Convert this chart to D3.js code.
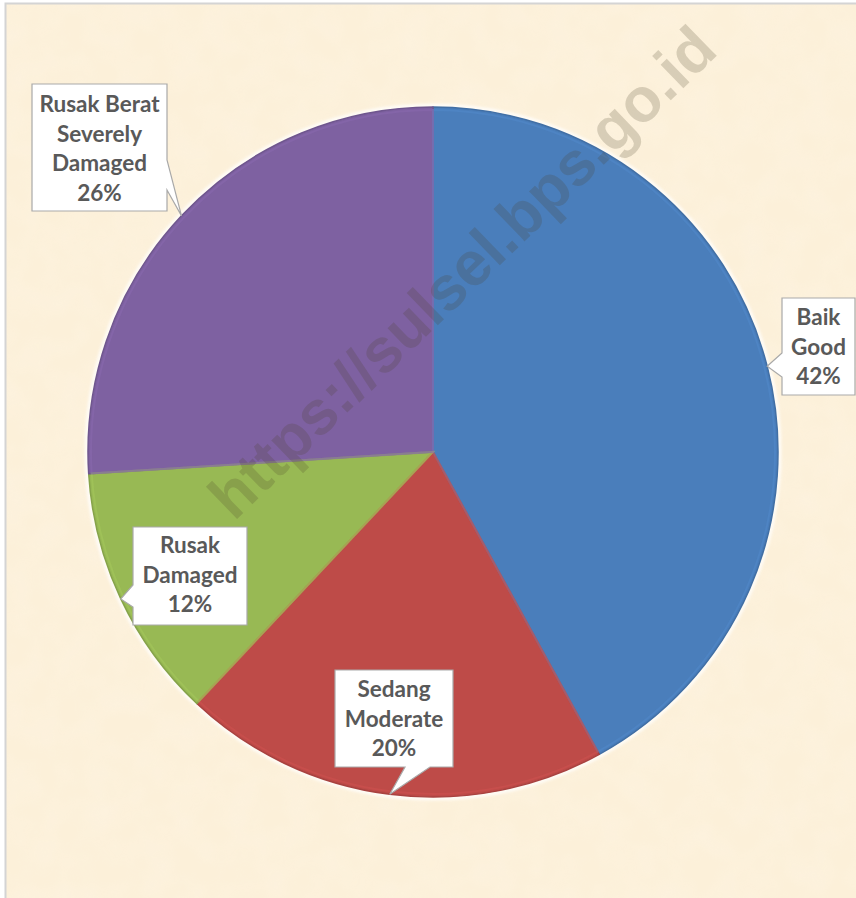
<!DOCTYPE html>
<html>
<head>
<meta charset="utf-8">
<script src="https://cdn.jsdelivr.net/npm/d3@7"></script>
<style>
  html, body { margin: 0; padding: 0; background: #ffffff; }
  svg { display: block; }
</style>
</head>
<body>
<div id="chart"></div>
<script>
// Road condition shares (percent), clockwise from 12 o'clock
const categories   = ["Baik", "Sedang", "Rusak", "Rusak Berat"];
const categoriesEn = [["Good"], ["Moderate"], ["Damaged"], ["Severely", "Damaged"]];
const shares       = [42, 20, 12, 26];
const sliceColors  = ["#4a7ebb", "#be4b48", "#98b954", "#7e61a1"];

const W = 856, H = 898;
const cx = 433, cy = 452, R = 345;

const svg = d3.select("#chart").append("svg")
  .attr("width", W).attr("height", H);

const defs = svg.append("defs");

// parchment-like mottling for the backdrop
const tex = defs.append("filter").attr("id", "paper")
  .attr("x", 0).attr("y", 0).attr("width", "100%").attr("height", "100%");
tex.append("feTurbulence").attr("type", "fractalNoise")
  .attr("baseFrequency", 0.035).attr("numOctaves", 2).attr("seed", 3).attr("result", "n");
tex.append("feColorMatrix").attr("in", "n").attr("type", "matrix")
  .attr("values", "0 0 0 0 0.99  0 0 0 0 0.93  0 0 0 0 0.82  0 0 0 0.9 -0.25")
  .attr("result", "c");
tex.append("feComposite").attr("in", "c").attr("in2", "SourceGraphic").attr("operator", "in");

const glow = defs.append("filter").attr("id", "rimGlow")
  .attr("x", "-10%").attr("y", "-10%").attr("width", "120%").attr("height", "120%");
glow.append("feGaussianBlur").attr("stdDeviation", 1.6);

// backdrop and frame
svg.append("rect").attr("x", 5).attr("y", 3).attr("width", W).attr("height", H)
  .attr("fill", "#fcf0d9");
svg.append("rect").attr("x", 5).attr("y", 3).attr("width", W).attr("height", H)
  .attr("fill", "#fcf0d9").attr("filter", "url(#paper)").attr("opacity", 0.5);
svg.append("rect").attr("x", 5.5).attr("y", 3.5).attr("width", W + 10).attr("height", H + 10)
  .attr("fill", "none").attr("stroke", "#d4d4d4").attr("stroke-width", 2);

// pie
const pie = d3.pie().sort(null).value(d => d.v)
  .startAngle(0).endAngle(2 * Math.PI);
const rows = categories.map((c, i) => ({ name: c, en: categoriesEn[i], v: shares[i], color: sliceColors[i] }));
const arcs = pie(rows);
const arc = d3.arc().innerRadius(0).outerRadius(R);

const g = svg.append("g").attr("transform", `translate(${cx},${cy})`);

// soft light rim around the disc
g.append("circle").attr("r", R + 1.5)
  .attr("fill", "none").attr("stroke", "#ffffff").attr("stroke-width", 3.5)
  .attr("opacity", 0.9).attr("filter", "url(#rimGlow)");

g.selectAll("path.slice").data(arcs).join("path")
  .attr("class", "slice")
  .attr("d", arc)
  .attr("fill", d => d.data.color)
  .attr("stroke", d => d3.color(d.data.color).darker(0.35))
  .attr("stroke-width", 1.5)
  .attr("stroke-linejoin", "round");

// inner bevel highlight along each slice edge
const bevelArc = d3.arc().innerRadius(0).outerRadius(R - 3);
g.selectAll("path.bevel").data(arcs).join("path")
  .attr("class", "bevel")
  .attr("d", bevelArc)
  .attr("fill", "none")
  .attr("stroke", d => d3.color(d.data.color).brighter(0.25))
  .attr("stroke-width", 2)
  .attr("opacity", 0.5);

// watermark
svg.append("text")
  .attr("transform", "translate(462,272) rotate(-44)")
  .attr("text-anchor", "middle")
  .attr("dominant-baseline", "central")
  .attr("font-family", "'Liberation Sans', Arial, sans-serif")
  .attr("font-weight", 700)
  .attr("font-size", 62)
  .attr("fill", "#4a4028")
  .attr("opacity", 0.2)
  .text("https://sulsel.bps.go.id");

// callout boxes: position of box and side of the pointer
const boxes = [
  { x: 782, y: 298, w: 73,  h: 97,  side: "left",   b0: 353, b1: 377, top: 325 },
  { x: 335, y: 670, w: 118, h: 97,  side: "bottom", b0: 405, b1: 430, top: 697 },
  { x: 133, y: 527, w: 114, h: 98,  side: "left",   b0: 585, b1: 607, top: 553 },
  { x: 32,  y: 84,  w: 135, h: 127, side: "right",  b0: 160, b1: 190, top: 112 }
];

function calloutPath(b, tip) {
  const x0 = b.x, y0 = b.y, x1 = b.x + b.w, y1 = b.y + b.h;
  const p = d3.path();
  p.moveTo(x0, y0);
  p.lineTo(x1, y0);
  if (b.side === "right") { p.lineTo(x1, b.b0); p.lineTo(tip[0], tip[1]); p.lineTo(x1, b.b1); }
  p.lineTo(x1, y1);
  if (b.side === "bottom") { p.lineTo(b.b1, y1); p.lineTo(tip[0], tip[1]); p.lineTo(b.b0, y1); }
  p.lineTo(x0, y1);
  if (b.side === "left") { p.lineTo(x0, b.b1); p.lineTo(tip[0], tip[1]); p.lineTo(x0, b.b0); }
  p.closePath();
  return p.toString();
}

const labels = svg.append("g");
arcs.forEach((a, i) => {
  const b = boxes[i];
  const mid = (a.startAngle + a.endAngle) / 2;
  const tip = [cx + R * Math.sin(mid), cy - R * Math.cos(mid)];
  labels.append("path")
    .attr("d", calloutPath(b, tip))
    .attr("fill", "#ffffff")
    .attr("stroke", "#a9a9a9")
    .attr("stroke-width", 1.2);
  const lines = [a.data.name, ...a.data.en, a.data.v + "%"];
  const t = labels.append("text")
    .attr("text-anchor", "middle")
    .attr("font-family", "Lato, 'Open Sans', sans-serif")
    .attr("font-weight", 700)
    .attr("font-size", 22.5)
    .attr("fill", "#595959");
  lines.forEach((s, k) => {
    t.append("tspan").attr("x", b.x + b.w / 2).attr("y", b.top + k * 29.5).text(s);
  });
});
</script>
</body>
</html>
